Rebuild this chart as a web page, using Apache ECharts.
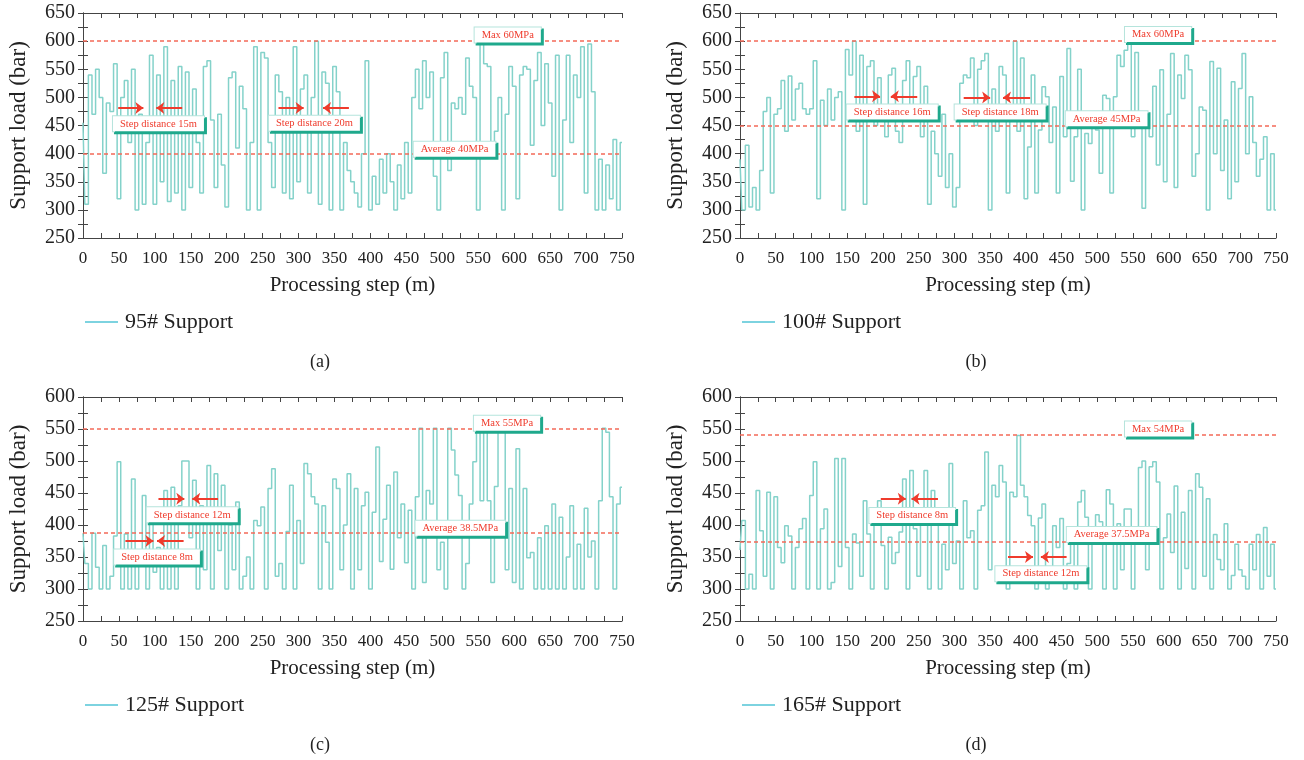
<!DOCTYPE html>
<html>
<head>
<meta charset="utf-8">
<title>Support load vs processing step</title>
<script src="https://cdn.jsdelivr.net/npm/echarts@6/dist/echarts.min.js"></script>
<style>
  html, body { margin: 0; padding: 0; background: #fff; }
  #main { width: 1304px; height: 760px; }
</style>
</head>
<body>
<div id="main"></div>
<script>
// readings every STEP metres along the face
const STEP = 5;

const supportNames = ['95# Support', '100# Support', '125# Support', '165# Support'];
const captions = ['(a)', '(b)', '(c)', '(d)'];

const load95 = [
  455,310,540,470,550,500,365,490,475,560,320,500,530,420,550,300,470,310,420,575,
  310,540,350,590,315,530,330,555,300,545,340,515,420,330,555,565,460,340,470,380,
  305,535,545,410,520,480,300,420,590,300,580,570,420,340,540,510,330,500,320,590,
  350,515,540,330,500,600,310,545,525,300,555,510,300,420,370,350,330,305,400,565,
  300,360,310,390,330,400,350,300,380,320,420,330,500,550,480,565,500,545,360,300,
  535,580,370,490,480,500,470,570,520,500,300,600,560,555,410,440,500,300,470,555,
  520,320,540,555,550,415,530,580,450,560,490,360,575,300,460,575,420,540,500,590,
  330,595,510,300,390,300,380,320,425,300,420
];

const load100 = [
  390,300,415,305,340,300,370,475,500,330,470,480,530,440,538,460,515,525,480,470,
  480,565,320,495,450,515,460,500,510,300,585,540,600,440,575,310,555,565,450,535,
  460,430,540,552,440,420,530,565,480,537,555,430,520,310,440,400,360,470,340,400,
  305,340,525,540,535,570,450,550,565,578,300,515,440,555,540,330,470,600,440,570,
  320,412,540,330,442,519,501,420,483,330,537,430,587,351,430,550,300,436,418,454,
  442,365,504,498,330,501,575,555,584,596,430,580,460,303,445,430,520,380,549,350,
  470,578,340,540,498,575,549,360,400,483,477,300,564,400,552,370,460,320,528,350,
  516,578,400,501,420,360,390,430,300,400,300
];

const load125 = [
  387,340,300,387,334,300,368,300,320,383,499,300,386,300,472,300,340,446,300,412,
  326,365,300,454,300,459,300,430,500,500,380,470,300,430,330,493,300,480,360,462,
  300,400,330,436,300,320,350,300,407,399,428,300,457,488,320,340,300,390,462,300,
  407,340,496,480,444,433,300,430,373,300,472,457,330,400,480,300,457,330,430,451,
  300,420,522,343,409,462,331,483,380,433,341,423,300,444,551,310,454,433,551,330,
  373,300,551,517,478,446,300,340,433,499,548,438,551,438,310,460,551,551,330,457,
  310,519,300,457,349,357,300,380,300,399,300,433,300,412,300,350,430,300,370,300,
  426,350,375,300,438,551,545,444,300,433,459
];

const load165 = [
  361,407,300,323,300,454,391,320,451,300,444,365,341,399,383,300,365,394,410,300,
  446,499,300,394,425,300,310,504,335,504,365,300,386,372,320,438,386,300,420,438,
  368,300,381,340,357,389,472,300,485,394,320,410,485,300,454,402,300,370,330,496,
  340,375,300,438,380,391,300,423,430,514,330,462,444,493,467,300,451,444,540,462,
  444,415,399,300,411,433,300,320,399,365,410,300,340,376,300,436,454,412,300,380,
  416,405,300,455,433,300,402,330,425,425,300,380,490,500,330,491,499,467,300,380,
  417,357,461,300,420,332,454,300,480,459,320,441,300,385,346,330,402,300,321,370,
  330,320,300,370,330,385,300,396,320,370,300
];

const loads = [load95, load100, load125, load165];

const xRange = [0, 750];
const yRanges = [[250, 650], [250, 650], [250, 600], [250, 600]];
const maxValues = [600, 600, 550, 541];
const avgValues = [400, 450, 388, 374];

// text boxes: [label, step (m), load (bar)]
const notes = [
  [['Max 60MPa', 591, 611], ['Average 40MPa', 517, 408], ['Step distance 15m', 105, 453], ['Step distance 20m', 322, 454]],
  [['Max 60MPa', 585, 612], ['Average 45MPa', 513, 462], ['Step distance 16m', 213, 474], ['Step distance 18m', 364, 474]],
  [['Max 55MPa', 590, 559], ['Average 38.5MPa', 525, 395], ['Step distance 12m', 152, 416], ['Step distance 8m', 103, 350]],
  [['Max 54MPa', 585, 550], ['Average 37.5MPa', 520, 385], ['Step distance 8m', 241, 415], ['Step distance 12m', 421, 324]]
];

// arrows: [from m, to m, load]
const arrows = [
  [[49, 84, 481], [138, 102, 481], [272, 307, 481], [370, 334, 481]],
  [[160, 196, 502], [248, 211, 502], [313, 350, 500], [406, 368, 500]],
  [[105, 141, 441], [188, 152, 441], [59, 98, 375], [140, 103, 375]],
  [[197, 232, 441], [277, 240, 441], [375, 410, 350], [457, 421, 350]]
];

const grids = [
  { left: 83, top: 13, width: 539, height: 225 },
  { left: 740, top: 13, width: 536, height: 225 },
  { left: 83, top: 397, width: 539, height: 224 },
  { left: 740, top: 397, width: 536, height: 224 }
];

const FONT = '"Liberation Serif", "DejaVu Serif", serif';
const LINE = '#84d2ca';
const LEGEND_LINE = '#52c4d6';
const RED = '#ef3b2c';
const DASH = '#f36a58';
const AXIS = '#444';

const chart = echarts.init(document.getElementById('main'));

const xAxes = [], yAxes = [], series = [], legends = [], graphics = [];

grids.forEach((g, k) => {
  const tickCommon = {
    axisLine: { show: true, lineStyle: { color: AXIS, width: 1 } },
    axisTick: { show: true, inside: true, length: 5, lineStyle: { color: AXIS } },
    minorTick: { show: true, splitNumber: 2, length: 5, lineStyle: { color: AXIS } },
    splitLine: { show: false }
  };
  xAxes.push(Object.assign({
    type: 'value', gridIndex: k, min: xRange[0], max: xRange[1], interval: 50,
    position: 'bottom',
    name: 'Processing step (m)', nameLocation: 'middle', nameGap: 37,
    nameTextStyle: { fontFamily: FONT, fontSize: 21, color: '#222' },
    axisLabel: { fontFamily: FONT, fontSize: 17, color: '#222', margin: 12 }
  }, tickCommon));
  xAxes.push(Object.assign({
    type: 'value', gridIndex: k, min: xRange[0], max: xRange[1], interval: 50,
    position: 'top', axisLabel: { show: false }
  }, tickCommon));
  yAxes.push(Object.assign({
    type: 'value', gridIndex: k, min: yRanges[k][0], max: yRanges[k][1], interval: 50,
    position: 'left',
    name: 'Support load (bar)', nameLocation: 'middle', nameGap: 53,
    nameTextStyle: { fontFamily: FONT, fontSize: 23, color: '#222' },
    axisLabel: { fontFamily: FONT, fontSize: 20, color: '#222', margin: 8 }
  }, tickCommon));
  yAxes.push(Object.assign({
    type: 'value', gridIndex: k, min: yRanges[k][0], max: yRanges[k][1], interval: 50,
    position: 'right', axisLabel: { show: false }
  }, tickCommon));

  const dashStyle = { color: DASH, width: 1.6, type: [4, 3], opacity: 1 };
  const arrowStyle = { color: RED, width: 2, type: 'solid', opacity: 1 };
  const arrowLines = arrows[k].map(a => [
    { coord: [a[0], a[2]], symbol: 'none', lineStyle: arrowStyle },
    { coord: [a[1], a[2]], symbol: 'arrow', symbolSize: [9, 8], lineStyle: arrowStyle }
  ]);

  series.push({
    name: supportNames[k],
    type: 'line',
    xAxisIndex: 2 * k,
    yAxisIndex: 2 * k,
    step: 'middle',
    showSymbol: false,
    data: loads[k].map((v, i) => [i * STEP, v]),
    lineStyle: { color: LINE, width: 1.5 },
    itemStyle: { color: LINE },
    markLine: {
      silent: true,
      symbol: ['none', 'none'],
      label: { show: false },
      emphasis: { disabled: true },
      lineStyle: dashStyle,
      data: [
        { yAxis: maxValues[k], lineStyle: dashStyle },
        { yAxis: avgValues[k], lineStyle: dashStyle }
      ].concat(arrowLines)
    },
    markPoint: {
      silent: true,
      symbol: 'rect',
      symbolSize: 1,
      itemStyle: { color: 'rgba(0,0,0,0)' },
      label: {
        show: true,
        position: 'inside',
        formatter: '{b}',
        fontFamily: FONT,
        fontSize: 10.5,
        lineHeight: 12,
        color: RED,
        backgroundColor: '#fff',
        borderColor: '#b5e4dc',
        borderWidth: 1,
        padding: [2, 7, 1, 7],
        shadowColor: '#1fa98c',
        shadowOffsetX: 2,
        shadowOffsetY: 2,
        shadowBlur: 0
      },
      data: notes[k].map(n => ({ name: n[0], coord: [n[1], n[2]] }))
    }
  });

  legends.push({
    data: [{ name: supportNames[k], itemStyle: { color: LEGEND_LINE } }],
    left: g.left + 2,
    top: k < 2 ? 311 : 694,
    padding: 0,
    icon: 'rect',
    itemWidth: 33,
    itemHeight: 1.5,
    itemGap: 8,
    itemStyle: { color: LEGEND_LINE },
    textStyle: { fontFamily: FONT, fontSize: 22, color: '#222', padding: [0, 0, 0, 2] }
  });

  graphics.push({
    type: 'text',
    x: k % 2 === 0 ? 320 : 976,
    y: k < 2 ? 362 : 745,
    style: {
      text: captions[k],
      font: '18px ' + FONT,
      fill: '#222',
      textAlign: 'center',
      textVerticalAlign: 'middle',
      align: 'center',
      verticalAlign: 'middle'
    }
  });
});

chart.setOption({
  animation: false,
  backgroundColor: '#fff',
  grid: grids,
  xAxis: xAxes,
  yAxis: yAxes,
  legend: legends,
  graphic: graphics,
  series: series
});
</script>
</body>
</html>
